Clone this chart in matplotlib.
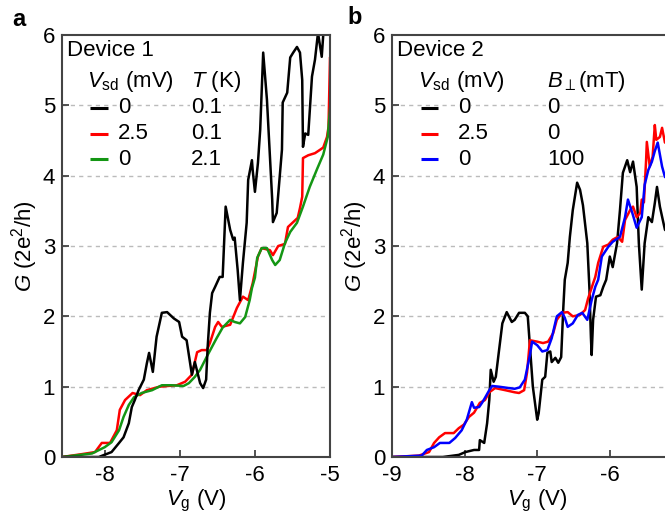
import matplotlib
matplotlib.use("Agg")
import matplotlib.pyplot as plt

plt.rcParams['font.family'] = ['Liberation Sans', 'DejaVu Sans']
plt.rcParams['mathtext.fontset'] = 'custom'
plt.rcParams['mathtext.rm'] = 'Liberation Sans'
plt.rcParams['mathtext.it'] = 'Liberation Sans:italic'
plt.rcParams['mathtext.bf'] = 'Liberation Sans:bold'

# Device 1: Vsd = 0 mV, T = 0.1 K
vg_a_black = [-8.57, -8.08, -7.91, -7.81, -7.75, -7.68, -7.64, -7.60, -7.55, -7.48,
              -7.44, -7.41, -7.36, -7.31, -7.24, -7.17, -7.08, -7.01, -6.97, -6.91,
              -6.87, -6.84, -6.80, -6.73, -6.69, -6.65, -6.63, -6.60, -6.57, -6.53,
              -6.47, -6.43, -6.39, -6.33, -6.29, -6.27, -6.23, -6.20, -6.16, -6.11,
              -6.09, -6.04, -6.03, -6.00, -5.96, -5.93, -5.89, -5.84, -5.77, -5.76,
              -5.71, -5.64, -5.63, -5.57, -5.53, -5.49, -5.44, -5.40, -5.37, -5.36,
              -5.33, -5.29, -5.24, -5.20, -5.16, -5.11, -5.09, -5.06]
g_a_black = [0.0, 0.0, 0.07, 0.20, 0.28, 0.48, 0.71, 0.81, 0.95, 1.10,
             1.33, 1.48, 1.21, 1.71, 2.05, 2.06, 1.97, 1.92, 1.71, 1.66,
             1.38, 1.17, 1.35, 1.05, 0.98, 1.10, 1.56, 2.05, 2.33, 2.42,
             2.56, 2.56, 3.56, 3.23, 3.09, 3.12, 2.66, 2.23, 2.76, 3.33,
             3.94, 4.22, 4.08, 3.77, 4.18, 4.65, 5.75, 5.08, 3.66, 3.34,
             3.47, 4.37, 5.04, 5.18, 5.68, 5.75, 5.83, 5.75, 5.36, 4.41,
             4.60, 4.58, 5.41, 5.65, 6.03, 5.69, 6.00, 6.10]

# Device 1: Vsd = 2.5 mV, T = 0.1 K
vg_a_red = [-8.57, -8.31, -8.13, -8.04, -7.93, -7.84, -7.80, -7.73, -7.63, -7.53,
            -7.44, -7.27, -7.04, -6.93, -6.84, -6.77, -6.71, -6.64, -6.60, -6.53,
            -6.49, -6.44, -6.33, -6.24, -6.16, -6.09, -6.03, -5.96, -5.91, -5.80,
            -5.76, -5.69, -5.60, -5.56, -5.49, -5.43, -5.40, -5.37, -5.36, -5.29,
            -5.20, -5.13, -5.09, -5.04, -5.02, -5.00]
g_a_red = [0.0, 0.04, 0.07, 0.20, 0.20, 0.38, 0.67, 0.81, 0.91, 0.88,
           0.95, 1.00, 1.02, 1.07, 1.17, 1.49, 1.52, 1.52, 1.62, 1.85,
           1.92, 1.85, 1.88, 2.12, 2.28, 2.23, 2.47, 2.85, 2.97, 2.94,
           2.87, 3.00, 3.03, 3.27, 3.34, 3.40, 3.54, 3.70, 4.25, 4.29,
           4.32, 4.37, 4.40, 4.55, 4.69, 5.67]

# Device 1: Vsd = 0 mV, T = 2.1 K
vg_a_green = [-8.57, -8.17, -8.00, -7.91, -7.81, -7.75, -7.68, -7.61, -7.51, -7.37,
              -7.24, -7.11, -6.95, -6.88, -6.80, -6.73, -6.63, -6.51, -6.43, -6.33,
              -6.27, -6.20, -6.13, -6.07, -6.04, -6.00, -5.97, -5.91, -5.84, -5.77,
              -5.73, -5.67, -5.60, -5.53, -5.44, -5.36, -5.27, -5.17, -5.09, -5.03,
              -5.00]
g_a_green = [0.0, 0.05, 0.14, 0.21, 0.38, 0.57, 0.74, 0.85, 0.91, 0.95,
             1.02, 1.02, 1.01, 1.05, 1.14, 1.24, 1.45, 1.69, 1.84, 1.95,
             1.92, 1.90, 1.99, 2.23, 2.40, 2.55, 2.83, 2.97, 2.97, 2.80,
             2.73, 2.80, 3.04, 3.20, 3.33, 3.56, 3.84, 4.10, 4.30, 4.55,
             4.95]

# Device 2: Vsd = 0 mV, B = 0 mT
vg_b_black = [-9.00, -8.30, -8.08, -7.99, -7.87, -7.80, -7.79, -7.73, -7.69, -7.66,
              -7.64, -7.60, -7.57, -7.53, -7.48, -7.42, -7.35, -7.31, -7.25, -7.17,
              -7.13, -7.10, -7.06, -7.00, -6.98, -6.93, -6.89, -6.86, -6.82, -6.80,
              -6.75, -6.71, -6.67, -6.64, -6.62, -6.58, -6.55, -6.51, -6.45, -6.41,
              -6.37, -6.31, -6.28, -6.26, -6.25, -6.23, -6.19, -6.13, -6.09, -6.05,
              -6.00, -5.96, -5.90, -5.86, -5.82, -5.76, -5.72, -5.68, -5.63, -5.60,
              -5.56, -5.52, -5.47, -5.42, -5.38, -5.35, -5.31, -5.27, -5.24, -5.20]
g_b_black = [0.0, 0.0, 0.03, 0.07, 0.10, 0.10, 0.24, 0.20, 0.48, 0.81,
             1.24, 1.07, 1.14, 1.48, 1.90, 2.06, 1.92, 1.95, 2.05, 2.05,
             2.00, 1.57, 1.00, 0.53, 0.62, 1.10, 1.14, 1.48, 1.50, 1.35,
             1.41, 1.34, 1.42, 2.13, 2.52, 2.76, 3.13, 3.51, 3.90, 3.80,
             3.58, 3.04, 2.38, 1.70, 1.45, 1.95, 2.28, 2.30, 2.42, 2.52,
             2.85, 2.70, 3.04, 3.51, 4.04, 4.22, 4.05, 4.20, 3.84, 3.04,
             2.38, 3.04, 3.41, 3.34, 3.61, 3.84, 3.56, 3.37, 3.23, 3.20]

# Device 2: Vsd = 2.5 mV, B = 0 mT
vg_b_red = [-9.00, -8.63, -8.49, -8.42, -8.35, -8.27, -8.15, -8.08, -8.01, -7.94,
            -7.87, -7.83, -7.79, -7.72, -7.66, -7.58, -7.44, -7.31, -7.25, -7.18,
            -7.14, -7.10, -7.00, -6.92, -6.85, -6.78, -6.73, -6.66, -6.58, -6.51,
            -6.41, -6.34, -6.30, -6.23, -6.20, -6.16, -6.09, -6.02, -5.96, -5.89,
            -5.83, -5.79, -5.72, -5.68, -5.63, -5.58, -5.56, -5.53, -5.50, -5.49,
            -5.45, -5.41, -5.38, -5.36, -5.31, -5.28, -5.24, -5.20]
g_b_red = [0.0, 0.02, 0.07, 0.20, 0.28, 0.34, 0.34, 0.41, 0.46, 0.57,
           0.63, 0.70, 0.77, 0.81, 0.92, 0.98, 0.95, 0.92, 0.91, 0.95,
           1.20, 1.66, 1.64, 1.62, 1.64, 1.76, 1.95, 2.05, 2.06, 2.00,
           2.02, 2.09, 2.25, 2.47, 2.56, 2.76, 2.99, 3.02, 3.09, 3.13,
           3.06, 3.37, 3.51, 3.56, 3.41, 3.47, 3.66, 3.62, 4.22, 4.48,
           4.13, 4.27, 4.72, 4.51, 4.55, 4.68, 4.47, 4.60]

# Device 2: Vsd = 0 mV, B = 100 mT
vg_b_blue = [-9.00, -8.59, -8.52, -8.42, -8.34, -8.21, -8.13, -8.04, -7.97, -7.90,
             -7.87, -7.80, -7.76, -7.72, -7.66, -7.62, -7.53, -7.39, -7.31, -7.24,
             -7.17, -7.13, -7.10, -7.07, -7.00, -6.93, -6.86, -6.80, -6.73, -6.66,
             -6.62, -6.58, -6.51, -6.44, -6.38, -6.31, -6.25, -6.20, -6.16, -6.11,
             -6.02, -5.96, -5.86, -5.79, -5.75, -5.69, -5.63, -5.56, -5.52, -5.47,
             -5.42, -5.38, -5.34, -5.28, -5.24, -5.20]
g_b_blue = [0.0, 0.02, 0.10, 0.14, 0.20, 0.20, 0.27, 0.38, 0.53, 0.78,
            0.70, 0.71, 0.77, 0.84, 0.95, 1.01, 1.00, 0.98, 0.97, 0.99,
            1.10, 1.30, 1.45, 1.64, 1.59, 1.50, 1.52, 1.69, 2.00, 2.06,
            1.98, 1.85, 1.90, 2.02, 2.05, 1.95, 2.23, 2.42, 2.52, 2.85,
            2.99, 3.06, 3.13, 3.41, 3.66, 3.47, 3.26, 3.41, 3.87, 4.08,
            4.20, 4.35, 4.47, 4.13, 3.98, 4.00]

a_rows = [('0', '0.1', 'black'), ('2.5', '0.1', '#ff0000'), ('0', '2.1', '#149614')]
b_rows = [('0', '0', 'black'), ('2.5', '0', '#ff0000'), ('0', '100', '#0000ff')]

FS = 16
LW = 1.8
SPINE = '#444444'


def style_axes(ax, xlim, xticks):
    ax.set_xlim(*xlim)
    ax.set_ylim(0, 6)
    ax.set_xticks(xticks)
    ax.set_xticklabels([str(t) for t in xticks])
    ax.set_yticks(range(7))
    ax.tick_params(axis='both', direction='in', length=5, width=1.3, color=SPINE,
                   labelsize=FS)
    ax.tick_params(axis='x', pad=6)
    ax.tick_params(axis='y', pad=5)
    for sp in ax.spines.values():
        sp.set_color(SPINE)
        sp.set_linewidth(1.5)
    for g in range(1, 6):
        ax.axhline(g, color='#bbbbbb', lw=1.0, ls=(0, (3, 3)), zorder=0)
    ax.set_ylabel(r'$G$ (2e$^2$/h)', fontsize=FS, labelpad=2)
    ax.set_xlabel(r'$V_\mathrm{g}$ (V)', fontsize=FS, labelpad=1)


def draw_legend(ax, title, col2_head, rows, xs):
    x_title, x_line0, x_line1, x_num, x_col2 = xs
    ax.text(x_title, 0.964, title, transform=ax.transAxes, fontsize=FS,
            va='center', ha='left')
    ax.text(x_line0 - 0.01, 0.877, r'$V_\mathrm{sd}$ (mV)', transform=ax.transAxes,
            fontsize=FS, va='baseline', ha='left')
    ax.text(x_col2, 0.877, col2_head, transform=ax.transAxes, fontsize=FS,
            va='baseline', ha='left')
    for (v1, v2, c), y in zip(rows, [0.828, 0.766, 0.705]):
        ax.plot([x_line0, x_line1], [y, y], color=c, lw=2.2,
                transform=ax.transAxes, solid_capstyle='butt', zorder=5)
        box = dict(fc='white', ec='none', pad=0.5)
        ax.text(x_num, y, v1, transform=ax.transAxes, fontsize=FS,
                va='center', ha='left', bbox=box, zorder=5)
        ax.text(x_col2, y, v2, transform=ax.transAxes, fontsize=FS,
                va='center', ha='left', bbox=box, zorder=5)


fig = plt.figure(figsize=(6.65, 5.17), dpi=100)

ax_a = fig.add_axes([62 / 665, 60 / 517, 268 / 665, 422 / 517])
style_axes(ax_a, (-8.57, -5.0), [-8, -7, -6, -5])
ax_a.plot(vg_a_red, g_a_red, color='#ff0000', lw=LW)
ax_a.plot(vg_a_green, g_a_green, color='#149614', lw=LW)
ax_a.plot(vg_a_black, g_a_black, color='black', lw=LW)
draw_legend(ax_a, 'Device 1', r'$T$ (K)', a_rows,
            (0.019, 0.104, 0.172, 0.209, 0.481))

ax_b = fig.add_axes([392 / 665, 60 / 517, 290.4 / 665, 422 / 517])
style_axes(ax_b, (-9.0, -5.0), [-9, -8, -7, -6])
ax_b.plot(vg_b_black, g_b_black, color='black', lw=LW)
ax_b.plot(vg_b_red, g_b_red, color='#ff0000', lw=LW)
ax_b.plot(vg_b_blue, g_b_blue, color='#0000ff', lw=LW)
draw_legend(ax_b, 'Device 2', r'$B_\perp$(mT)', b_rows,
            (0.017, 0.100, 0.158, 0.227, 0.534))

fig.text(12 / 665, 1 - 19 / 517, 'a', fontsize=17, fontweight='bold', va='center')
fig.text(347 / 665, 1 - 18 / 517, 'b', fontsize=17, fontweight='bold', va='center')

fig.savefig('out.png', dpi=100)
